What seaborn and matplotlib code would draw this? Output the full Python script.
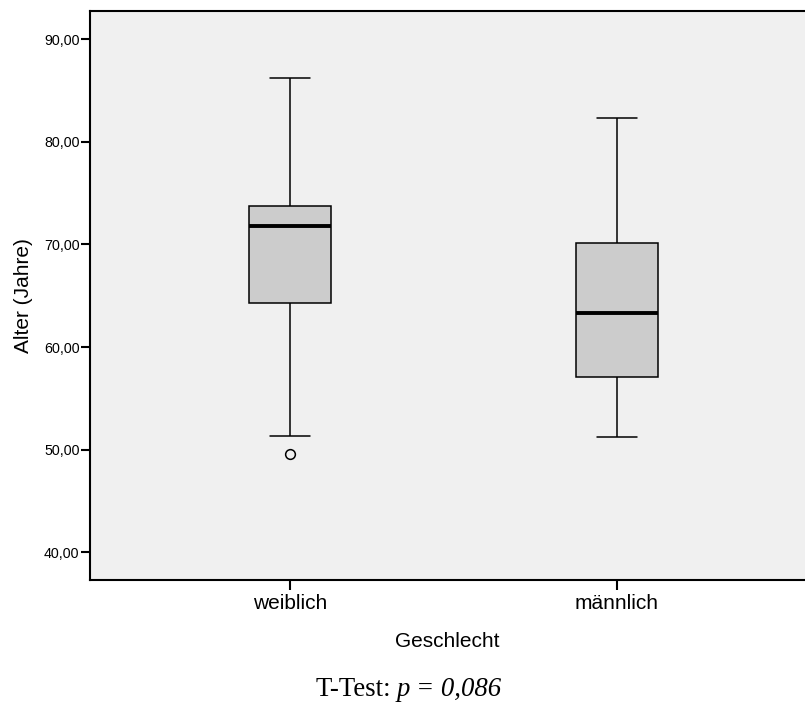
import matplotlib
matplotlib.use("Agg")
from matplotlib import pyplot as plt
from matplotlib.ticker import FuncFormatter
import pandas as pd
import seaborn as sns

# values (whisker ends, quartiles, median, outlier)
geschlecht = ["weiblich", "männlich"]
weiblich_alter = [49.56, 51.34, 64.32, 64.32, 71.79, 73.77, 73.77, 86.17, 86.17]
maennlich_alter = [51.28, 57.06, 63.29, 70.14, 82.31]
y_ticks = [40, 50, 60, 70, 80, 90]

df = pd.DataFrame({
    "Geschlecht": [geschlecht[0]] * len(weiblich_alter) + [geschlecht[1]] * len(maennlich_alter),
    "Alter": weiblich_alter + maennlich_alter,
})

sns.set_style("white")
plt.rcParams['font.family'] = ['Liberation Sans', 'DejaVu Sans']
plt.rcParams['text.color'] = 'black'
plt.rcParams['axes.labelcolor'] = 'black'
plt.rcParams['xtick.color'] = 'black'
plt.rcParams['ytick.color'] = 'black'

fig = plt.figure(figsize=(8.05, 7.07), dpi=100)
ax = fig.add_axes([90 / 805, 1 - 580 / 707, 715 / 805, 569.5 / 707])
ax.set_facecolor("#f0f0f0")

sns.boxplot(data=df, x="Geschlecht", y="Alter", order=geschlecht, ax=ax,
            color="#cccccc", saturation=1, linecolor="black", linewidth=1.1,
            width=0.25, fliersize=7,
            flierprops=dict(marker="o", markerfacecolor="none",
                            markeredgecolor="black", markeredgewidth=1.1),
            medianprops=dict(linewidth=2.8, color="black"))

ax.set_xlim(-0.6116, 1.575)
ax.set_ylim(37.32, 92.78)
ax.set_yticks(y_ticks)
ax.yaxis.set_major_formatter(FuncFormatter(lambda v, p: f"{v:.2f}".replace(".", ",")))

for side in ["left", "bottom", "top"]:
    ax.spines[side].set_visible(True)
    ax.spines[side].set_color("black")
    ax.spines[side].set_linewidth(1.5)
ax.spines["right"].set_visible(False)

ax.tick_params(axis="y", length=6.5, width=1.5, colors="black", labelsize=10.3, pad=1, left=True)
ax.tick_params(axis="x", length=7, width=1.5, colors="black", labelsize=15, pad=3, bottom=True)

ax.set_ylabel("Alter (Jahre)", fontsize=15, labelpad=8, color="black")
ax.set_xlabel("Geschlecht", fontsize=15, labelpad=14, color="black")

fig.text(397 / 805, 1 - 690 / 707, "T-Test: ", ha="right", va="center",
         fontsize=19.3, family="Liberation Serif", color="black")
fig.text(397 / 805, 1 - 690 / 707, "p = 0,086", ha="left", va="center",
         fontsize=19.3, family="Liberation Serif", style="italic", color="black")

fig.savefig("out.png", dpi=100)
